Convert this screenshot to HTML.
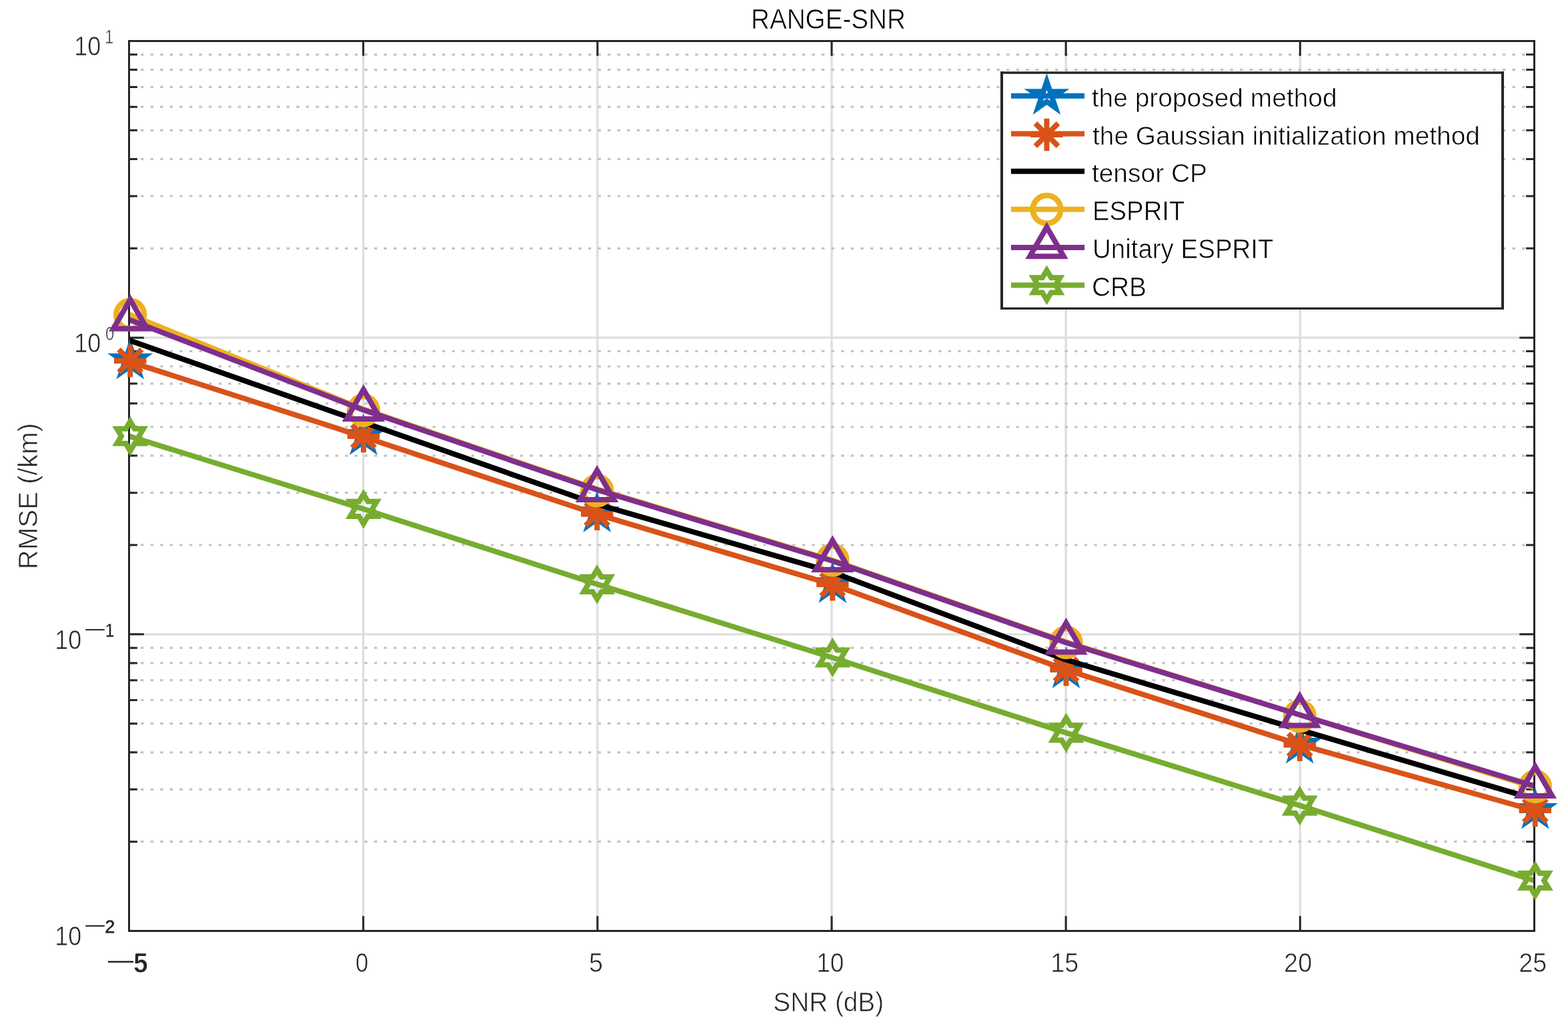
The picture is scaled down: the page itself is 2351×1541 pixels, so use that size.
<!DOCTYPE html>
<html lang="en"><head><meta charset="utf-8"><title>RANGE-SNR</title>
<style>html,body{margin:0;padding:0;background:#fff;overflow:hidden;}svg{display:block;}text{font-family:"Liberation Sans",Arial,Helvetica,sans-serif;stroke:#fff;stroke-width:0.7px;}</style>
</head><body>
<svg width="2351" height="1541" viewBox="0 0 2351 1541">
<rect x="0" y="0" width="2351" height="1541" fill="#fff"/>
<defs><clipPath id="ax"><rect x="195.0" y="63.0" width="2104.0" height="1331.0"/></clipPath></defs>
<path d="M544.67 61.50V1395.50M895.83 61.50V1395.50M1247.00 61.50V1395.50M1598.17 61.50V1395.50M1949.33 61.50V1395.50M193.50 506.17H2300.50M193.50 950.83H2300.50" stroke="#dedede" stroke-width="3.3" fill="none"/>
<path d="M193.50 1261.64H2297.50M193.50 1183.34H2297.50M193.50 1127.78H2297.50M193.50 1084.69H2297.50M193.50 1049.48H2297.50M193.50 1019.71H2297.50M193.50 993.93H2297.50M193.50 971.18H2297.50M193.50 816.98H2297.50M193.50 738.67H2297.50M193.50 683.12H2297.50M193.50 640.02H2297.50M193.50 604.82H2297.50M193.50 575.05H2297.50M193.50 549.26H2297.50M193.50 526.51H2297.50M193.50 372.31H2297.50M193.50 294.01H2297.50M193.50 238.45H2297.50M193.50 195.36H2297.50M193.50 160.15H2297.50M193.50 130.38H2297.50M193.50 104.59H2297.50M193.50 81.85H2297.50" stroke="#c3c3c3" stroke-width="3.2" stroke-dasharray="4.4 10.185" stroke-dashoffset="-2.90" fill="none"/>
<g>
<text x="533.03" y="1457.00" font-size="40" font-weight="normal" fill="#262626" textLength="19.36" lengthAdjust="spacingAndGlyphs">0</text>
<text x="883.11" y="1457.00" font-size="40" font-weight="normal" fill="#262626" textLength="21.08" lengthAdjust="spacingAndGlyphs">5</text>
<text x="1224.22" y="1457.00" font-size="40" font-weight="normal" fill="#262626" textLength="41.16" lengthAdjust="spacingAndGlyphs">10</text>
<text x="1575.16" y="1457.00" font-size="40" font-weight="normal" fill="#262626" textLength="42.05" lengthAdjust="spacingAndGlyphs">15</text>
<text x="1925.11" y="1457.00" font-size="40" font-weight="normal" fill="#262626" textLength="42.11" lengthAdjust="spacingAndGlyphs">20</text>
<text x="2277.21" y="1457.00" font-size="40" font-weight="normal" fill="#262626" textLength="42.00" lengthAdjust="spacingAndGlyphs">25</text>
<text x="162" y="1452" font-size="38" fill="#262626" textLength="38" lengthAdjust="spacingAndGlyphs" style="stroke:none">—</text>
<text x="200.09" y="1458.00" font-size="43" font-weight="bold" fill="#262626" textLength="21.75" lengthAdjust="spacingAndGlyphs">5</text>
<text x="111.30" y="83.30" font-size="40" font-weight="normal" fill="#262626" textLength="40.05" lengthAdjust="spacingAndGlyphs">10</text>
<text x="111.30" y="527.97" font-size="40" font-weight="normal" fill="#262626" textLength="40.05" lengthAdjust="spacingAndGlyphs">10</text>
<text x="82.30" y="972.63" font-size="40" font-weight="normal" fill="#262626" textLength="40.05" lengthAdjust="spacingAndGlyphs">10</text>
<text x="82.30" y="1417.30" font-size="40" font-weight="normal" fill="#262626" textLength="40.05" lengthAdjust="spacingAndGlyphs">10</text>
<text x="156.95" y="64.90" font-size="30" font-weight="normal" fill="#262626" textLength="13.35" lengthAdjust="spacingAndGlyphs">1</text>
<text x="158.11" y="509.77" font-size="30" font-weight="normal" fill="#262626" textLength="13.24" lengthAdjust="spacingAndGlyphs">0</text>
<text x="157.70" y="954.83" font-size="30" font-weight="bold" fill="#262626" textLength="13.35" lengthAdjust="spacingAndGlyphs">1</text>
<text x="157.05" y="1399.00" font-size="30" font-weight="bold" fill="#262626" textLength="15.80" lengthAdjust="spacingAndGlyphs">2</text>
<text x="128.2" y="951.68" font-size="28.6" fill="#262626" textLength="28.6" lengthAdjust="spacingAndGlyphs" style="stroke:none">—</text>
<text x="128.2" y="1396.35" font-size="28.6" fill="#262626" textLength="28.6" lengthAdjust="spacingAndGlyphs" style="stroke:none">—</text>
</g>
<path d="M544.67 1395.50V1373.20M544.67 61.50V83.80M895.83 1395.50V1373.20M895.83 61.50V83.80M1247.00 1395.50V1373.20M1247.00 61.50V83.80M1598.17 1395.50V1373.20M1598.17 61.50V83.80M1949.33 1395.50V1373.20M1949.33 61.50V83.80M193.50 950.83H215.80M2300.50 950.83H2278.20M193.50 506.17H215.80M2300.50 506.17H2278.20M193.50 1261.64H205.90M2300.50 1261.64H2288.10M193.50 1183.34H205.90M2300.50 1183.34H2288.10M193.50 1127.78H205.90M2300.50 1127.78H2288.10M193.50 1084.69H205.90M2300.50 1084.69H2288.10M193.50 1049.48H205.90M2300.50 1049.48H2288.10M193.50 1019.71H205.90M2300.50 1019.71H2288.10M193.50 993.93H205.90M2300.50 993.93H2288.10M193.50 971.18H205.90M2300.50 971.18H2288.10M193.50 816.98H205.90M2300.50 816.98H2288.10M193.50 738.67H205.90M2300.50 738.67H2288.10M193.50 683.12H205.90M2300.50 683.12H2288.10M193.50 640.02H205.90M2300.50 640.02H2288.10M193.50 604.82H205.90M2300.50 604.82H2288.10M193.50 575.05H205.90M2300.50 575.05H2288.10M193.50 549.26H205.90M2300.50 549.26H2288.10M193.50 526.51H205.90M2300.50 526.51H2288.10M193.50 372.31H205.90M2300.50 372.31H2288.10M193.50 294.01H205.90M2300.50 294.01H2288.10M193.50 238.45H205.90M2300.50 238.45H2288.10M193.50 195.36H205.90M2300.50 195.36H2288.10M193.50 160.15H205.90M2300.50 160.15H2288.10M193.50 130.38H205.90M2300.50 130.38H2288.10M193.50 104.59H205.90M2300.50 104.59H2288.10M193.50 81.85H205.90M2300.50 81.85H2288.10" stroke="#262626" stroke-width="3" fill="none"/><rect x="193.5" y="61.5" width="2107.0" height="1334.0" stroke="#262626" stroke-width="3" fill="none"/>
<path d="M193.50,542.00 L544.67,654.70 L895.83,771.20 L1247.00,875.90 L1598.17,1004.00 L1949.33,1116.40 L2300.50,1214.90" stroke="#0072BD" stroke-width="6.5" fill="none" stroke-linejoin="round" clip-path="url(#ax)"/>
<g><path d="M195.20,518.80 L200.24,533.86 L216.56,533.86 L203.36,543.17 L208.40,558.24 L195.20,548.93 L182.00,558.24 L187.04,543.17 L173.84,533.86 L190.16,533.86Z" stroke="#0072BD" stroke-width="8" fill="none" stroke-miterlimit="10"/><path d="M545.00,632.30 L550.04,647.36 L566.36,647.36 L553.16,656.67 L558.20,671.74 L545.00,662.43 L531.80,671.74 L536.84,656.67 L523.64,647.36 L539.96,647.36Z" stroke="#0072BD" stroke-width="8" fill="none" stroke-miterlimit="10"/><path d="M895.20,748.20 L900.24,763.26 L916.56,763.26 L903.36,772.57 L908.40,787.64 L895.20,778.33 L882.00,787.64 L887.04,772.57 L873.84,763.26 L890.16,763.26Z" stroke="#0072BD" stroke-width="8" fill="none" stroke-miterlimit="10"/><path d="M1248.30,854.20 L1253.34,869.26 L1269.66,869.26 L1256.46,878.57 L1261.50,893.64 L1248.30,884.33 L1235.10,893.64 L1240.14,878.57 L1226.94,869.26 L1243.26,869.26Z" stroke="#0072BD" stroke-width="8" fill="none" stroke-miterlimit="10"/><path d="M1598.50,982.00 L1603.54,997.06 L1619.86,997.06 L1606.66,1006.37 L1611.70,1021.44 L1598.50,1012.13 L1585.30,1021.44 L1590.34,1006.37 L1577.14,997.06 L1593.46,997.06Z" stroke="#0072BD" stroke-width="8" fill="none" stroke-miterlimit="10"/><path d="M1948.80,1094.90 L1953.84,1109.96 L1970.16,1109.96 L1956.96,1119.27 L1962.00,1134.34 L1948.80,1125.03 L1935.60,1134.34 L1940.64,1119.27 L1927.44,1109.96 L1943.76,1109.96Z" stroke="#0072BD" stroke-width="8" fill="none" stroke-miterlimit="10"/><path d="M2301.80,1193.00 L2306.84,1208.06 L2323.16,1208.06 L2309.96,1217.37 L2315.00,1232.44 L2301.80,1223.13 L2288.60,1232.44 L2293.64,1217.37 L2280.44,1208.06 L2296.76,1208.06Z" stroke="#0072BD" stroke-width="8" fill="none" stroke-miterlimit="10"/></g>
<path d="M193.50,542.00 L544.67,654.70 L895.83,771.20 L1247.00,875.90 L1598.17,1004.00 L1949.33,1116.40 L2300.50,1214.90" stroke="#D95319" stroke-width="8" fill="none" stroke-linejoin="round" clip-path="url(#ax)"/>
<g><path d="M171.00 541.00H219.40M195.20 516.80V565.20M178.09 523.89L212.31 558.11M178.09 558.11L212.31 523.89" stroke="#D95319" stroke-width="8" fill="none"/><path d="M520.80 654.00H569.20M545.00 629.80V678.20M527.89 636.89L562.11 671.11M527.89 671.11L562.11 636.89" stroke="#D95319" stroke-width="8" fill="none"/><path d="M871.00 770.70H919.40M895.20 746.50V794.90M878.09 753.59L912.31 787.81M878.09 787.81L912.31 753.59" stroke="#D95319" stroke-width="8" fill="none"/><path d="M1224.10 876.20H1272.50M1248.30 852.00V900.40M1231.19 859.09L1265.41 893.31M1231.19 893.31L1265.41 859.09" stroke="#D95319" stroke-width="8" fill="none"/><path d="M1574.30 1004.00H1622.70M1598.50 979.80V1028.20M1581.39 986.89L1615.61 1021.11M1581.39 1021.11L1615.61 986.89" stroke="#D95319" stroke-width="8" fill="none"/><path d="M1924.60 1116.80H1973.00M1948.80 1092.60V1141.00M1931.69 1099.69L1965.91 1133.91M1931.69 1133.91L1965.91 1099.69" stroke="#D95319" stroke-width="8" fill="none"/><path d="M2277.60 1215.00H2326.00M2301.80 1190.80V1239.20M2284.69 1197.89L2318.91 1232.11M2284.69 1232.11L2318.91 1197.89" stroke="#D95319" stroke-width="8" fill="none"/></g>
<path d="M193.50,510.00 L544.67,633.10 L895.83,756.00 L1247.00,857.30 L1598.17,989.00 L1949.33,1094.20 L2300.50,1197.70" stroke="#000000" stroke-width="8" fill="none" stroke-linejoin="round" clip-path="url(#ax)"/>
<path d="M193.50,471.20 L544.67,613.40 L895.83,733.40 L1247.00,839.50 L1598.17,962.40 L1949.33,1071.80 L2300.50,1180.20" stroke="#EDB120" stroke-width="8" fill="none" stroke-linejoin="round" clip-path="url(#ax)"/>
<g><circle cx="195.20" cy="471.80" r="20.9" stroke="#EDB120" stroke-width="8.6" fill="none"/><circle cx="545.00" cy="615.00" r="20.9" stroke="#EDB120" stroke-width="8.6" fill="none"/><circle cx="895.20" cy="735.35" r="20.9" stroke="#EDB120" stroke-width="8.6" fill="none"/><circle cx="1248.30" cy="839.40" r="20.9" stroke="#EDB120" stroke-width="8.6" fill="none"/><circle cx="1598.50" cy="963.00" r="20.9" stroke="#EDB120" stroke-width="8.6" fill="none"/><circle cx="1948.80" cy="1073.40" r="20.9" stroke="#EDB120" stroke-width="8.6" fill="none"/><circle cx="2301.80" cy="1178.95" r="20.9" stroke="#EDB120" stroke-width="8.6" fill="none"/></g>
<path d="M193.50,479.20 L544.67,614.40 L895.83,734.40 L1247.00,840.50 L1598.17,963.20 L1949.33,1071.80 L2300.50,1178.20" stroke="#7E2F8E" stroke-width="8" fill="none" stroke-linejoin="round" clip-path="url(#ax)"/>
<g><path d="M195.20,449.00 L220.49,492.80 L169.91,492.80Z" stroke="#7E2F8E" stroke-width="8" fill="none" stroke-miterlimit="10"/><path d="M545.00,584.10 L570.29,627.90 L519.71,627.90Z" stroke="#7E2F8E" stroke-width="8" fill="none" stroke-miterlimit="10"/><path d="M895.20,705.10 L920.49,748.90 L869.91,748.90Z" stroke="#7E2F8E" stroke-width="8" fill="none" stroke-miterlimit="10"/><path d="M1248.30,810.30 L1273.59,854.10 L1223.01,854.10Z" stroke="#7E2F8E" stroke-width="8" fill="none" stroke-miterlimit="10"/><path d="M1598.50,933.80 L1623.79,977.60 L1573.21,977.60Z" stroke="#7E2F8E" stroke-width="8" fill="none" stroke-miterlimit="10"/><path d="M1948.80,1043.80 L1974.09,1087.60 L1923.51,1087.60Z" stroke="#7E2F8E" stroke-width="8" fill="none" stroke-miterlimit="10"/><path d="M2301.80,1149.20 L2327.09,1193.00 L2276.51,1193.00Z" stroke="#7E2F8E" stroke-width="8" fill="none" stroke-miterlimit="10"/></g>
<path d="M193.50,653.80 L544.67,762.90 L895.83,875.90 L1247.00,985.50 L1598.17,1098.40 L1949.33,1207.60 L2300.50,1320.00" stroke="#77AC30" stroke-width="8" fill="none" stroke-linejoin="round" clip-path="url(#ax)"/>
<g><path d="M195.20,631.70 L201.83,642.75 L215.10,642.75 L208.47,653.80 L215.10,664.85 L201.83,664.85 L195.20,675.90 L188.57,664.85 L175.30,664.85 L181.93,653.80 L175.30,642.75 L188.57,642.75Z" stroke="#77AC30" stroke-width="8" fill="none" stroke-miterlimit="10"/><path d="M545.00,740.80 L551.63,751.85 L564.90,751.85 L558.27,762.90 L564.90,773.95 L551.63,773.95 L545.00,785.00 L538.37,773.95 L525.10,773.95 L531.73,762.90 L525.10,751.85 L538.37,751.85Z" stroke="#77AC30" stroke-width="8" fill="none" stroke-miterlimit="10"/><path d="M895.20,853.80 L901.83,864.85 L915.10,864.85 L908.47,875.90 L915.10,886.95 L901.83,886.95 L895.20,898.00 L888.57,886.95 L875.30,886.95 L881.93,875.90 L875.30,864.85 L888.57,864.85Z" stroke="#77AC30" stroke-width="8" fill="none" stroke-miterlimit="10"/><path d="M1248.30,963.40 L1254.93,974.45 L1268.20,974.45 L1261.57,985.50 L1268.20,996.55 L1254.93,996.55 L1248.30,1007.60 L1241.67,996.55 L1228.40,996.55 L1235.03,985.50 L1228.40,974.45 L1241.67,974.45Z" stroke="#77AC30" stroke-width="8" fill="none" stroke-miterlimit="10"/><path d="M1598.50,1076.30 L1605.13,1087.35 L1618.40,1087.35 L1611.77,1098.40 L1618.40,1109.45 L1605.13,1109.45 L1598.50,1120.50 L1591.87,1109.45 L1578.60,1109.45 L1585.23,1098.40 L1578.60,1087.35 L1591.87,1087.35Z" stroke="#77AC30" stroke-width="8" fill="none" stroke-miterlimit="10"/><path d="M1948.80,1185.50 L1955.43,1196.55 L1968.70,1196.55 L1962.07,1207.60 L1968.70,1218.65 L1955.43,1218.65 L1948.80,1229.70 L1942.17,1218.65 L1928.90,1218.65 L1935.53,1207.60 L1928.90,1196.55 L1942.17,1196.55Z" stroke="#77AC30" stroke-width="8" fill="none" stroke-miterlimit="10"/><path d="M2301.80,1297.90 L2308.43,1308.95 L2321.70,1308.95 L2315.07,1320.00 L2321.70,1331.05 L2308.43,1331.05 L2301.80,1342.10 L2295.17,1331.05 L2281.90,1331.05 L2288.53,1320.00 L2281.90,1308.95 L2295.17,1308.95Z" stroke="#77AC30" stroke-width="8" fill="none" stroke-miterlimit="10"/></g>
<text x="1159.33" y="1516.00" font-size="41.5" font-weight="normal" fill="#262626" textLength="165.76" lengthAdjust="spacingAndGlyphs">SNR (dB)</text>
<g transform="translate(56,0) rotate(-90)"><text x="-853.41" y="0.00" font-size="41.5" font-weight="normal" fill="#262626" textLength="219.28" lengthAdjust="spacingAndGlyphs">RMSE (/km)</text></g>
<text x="1126.00" y="43.10" font-size="42.9" font-weight="normal" fill="#000" textLength="231.94" lengthAdjust="spacingAndGlyphs">RANGE-SNR</text>
<rect x="1502" y="109" width="751" height="353.4" fill="#fff"/>
<path d="M1500 109H2255M1500 462.4H2255" stroke="#262626" stroke-width="3.4"/>
<path d="M1502 107V464M2253 107V464" stroke="#262626" stroke-width="4"/>
<path d="M1515.9 143.85H1626.1" stroke="#0072BD" stroke-width="8"/>
<path d="M1569.45,122.20 L1574.49,137.26 L1590.81,137.26 L1577.61,146.57 L1582.65,161.64 L1569.45,152.33 L1556.25,161.64 L1561.29,146.57 L1548.09,137.26 L1564.41,137.26Z" stroke="#0072BD" stroke-width="8" fill="none" stroke-miterlimit="10"/>
<text x="1636.80" y="160.25" font-size="39.2" font-weight="normal" fill="#000" textLength="367.86" lengthAdjust="spacingAndGlyphs">the proposed method</text>
<path d="M1515.9 200.50H1626.1" stroke="#D95319" stroke-width="8"/>
<path d="M1545.25 201.95H1593.65M1569.45 177.75V226.15M1552.34 184.84L1586.56 219.06M1552.34 219.06L1586.56 184.84" stroke="#D95319" stroke-width="8" fill="none"/>
<text x="1638.00" y="216.90" font-size="39.2" font-weight="normal" fill="#000" textLength="580.87" lengthAdjust="spacingAndGlyphs">the Gaussian initialization method</text>
<path d="M1515.9 256.80H1626.1" stroke="#000000" stroke-width="8"/>
<text x="1636.90" y="273.20" font-size="39.6" font-weight="normal" fill="#000" textLength="173.15" lengthAdjust="spacingAndGlyphs">tensor CP</text>
<path d="M1515.9 313.73H1626.1" stroke="#EDB120" stroke-width="8"/>
<circle cx="1569.45" cy="313.96" r="20.9" stroke="#EDB120" stroke-width="8.6" fill="none"/>
<text x="1637.96" y="330.13" font-size="40.5" font-weight="normal" fill="#000" textLength="138.40" lengthAdjust="spacingAndGlyphs">ESPRIT</text>
<path d="M1515.9 371.00H1626.1" stroke="#7E2F8E" stroke-width="8"/>
<path d="M1569.45,340.50 L1594.74,384.30 L1544.16,384.30Z" stroke="#7E2F8E" stroke-width="8" fill="none" stroke-miterlimit="10"/>
<text x="1637.95" y="387.40" font-size="40.5" font-weight="normal" fill="#000" textLength="271.64" lengthAdjust="spacingAndGlyphs">Unitary ESPRIT</text>
<path d="M1515.9 427.45H1626.1" stroke="#77AC30" stroke-width="8"/>
<path d="M1569.45,405.25 L1576.08,416.30 L1589.35,416.30 L1582.72,427.35 L1589.35,438.40 L1576.08,438.40 L1569.45,449.45 L1562.82,438.40 L1549.55,438.40 L1556.18,427.35 L1549.55,416.30 L1562.82,416.30Z" stroke="#77AC30" stroke-width="8" fill="none" stroke-miterlimit="10"/>
<text x="1636.88" y="443.85" font-size="40.5" font-weight="normal" fill="#000" textLength="82.18" lengthAdjust="spacingAndGlyphs">CRB</text>
</svg></body></html>
